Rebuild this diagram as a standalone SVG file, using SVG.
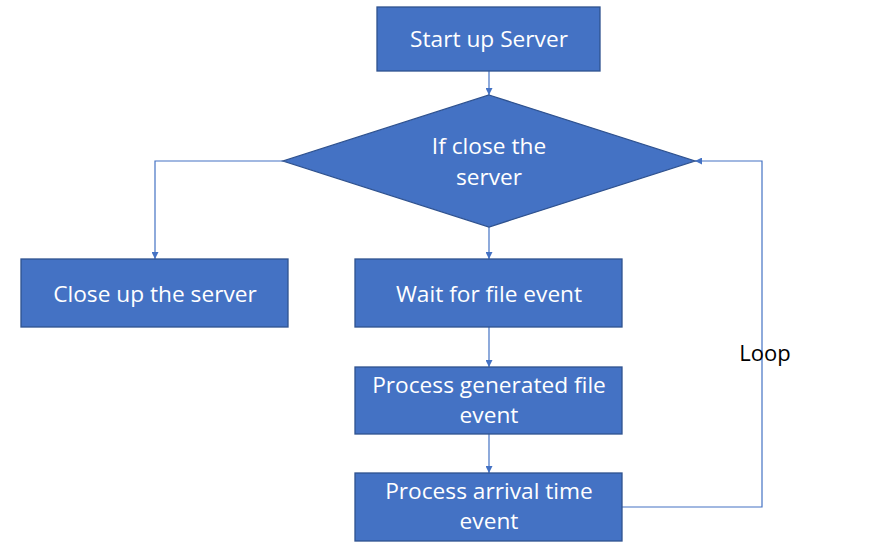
<svg xmlns="http://www.w3.org/2000/svg" width="886" height="559" viewBox="0 0 886 559">
<style>
.box{fill:#4472C4;stroke:#2F528F;stroke-width:1.3}
.t{font-family:"Open Sans","Noto Sans",sans-serif;font-size:22.7px;fill:#FFFFFF;text-anchor:middle}
.c{fill:none;stroke:#4472C4;stroke-width:1.2}
.lbl{font-family:"Open Sans","Noto Sans",sans-serif;font-size:22px;fill:#000000;text-anchor:middle}
</style>
<defs>
<marker id="ah" viewBox="0 0 10 10" refX="10" refY="5" markerWidth="7" markerHeight="7" markerUnits="userSpaceOnUse" orient="auto">
<path d="M0,0 L10,5 L0,10 z" fill="#4472C4"/>
</marker>
</defs>
<rect width="886" height="559" fill="#FFFFFF"/>
<g id="connectors">
<path class="c" d="M489,71 V95" marker-end="url(#ah)"/>
<path class="c" d="M283,161 H155 V259" marker-end="url(#ah)"/>
<path class="c" d="M489,227 V259" marker-end="url(#ah)"/>
<path class="c" d="M489,327 V367" marker-end="url(#ah)"/>
<path class="c" d="M489,434 V473" marker-end="url(#ah)"/>
<path class="c" d="M622,507 H762 V161 H695" marker-end="url(#ah)"/>
<text class="lbl" x="765" y="361">Loop</text>
</g>
<g id="start">
<rect class="box" x="377" y="7" width="223" height="64"/>
<text class="t" x="489" y="47">Start up Server</text>
</g>
<g id="decision">
<polygon class="box" points="489,95 695,161 489,227 283,161"/>
<text class="t" x="489" y="154">If close the</text>
<text class="t" x="489" y="185">server</text>
</g>
<g id="close">
<rect class="box" x="21" y="259" width="267" height="68"/>
<text class="t" x="155" y="302">Close up the server</text>
</g>
<g id="wait">
<rect class="box" x="355" y="259" width="267" height="68"/>
<text class="t" x="489" y="302">Wait for file event</text>
</g>
<g id="generated">
<rect class="box" x="355" y="367" width="267" height="67"/>
<text class="t" x="489" y="393">Process generated file</text>
<text class="t" x="489" y="423">event</text>
</g>
<g id="arrival">
<rect class="box" x="355" y="473" width="267" height="68"/>
<text class="t" x="489" y="499">Process arrival time</text>
<text class="t" x="489" y="529">event</text>
</g>
</svg>
